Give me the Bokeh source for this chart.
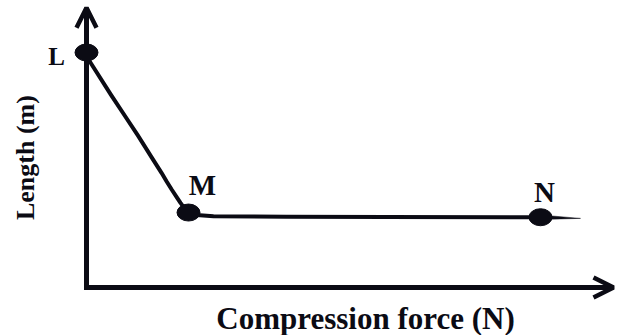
from bokeh.plotting import figure
from bokeh.models import Range1d, Label, Arrow, OpenHead
from bokeh.embed import file_html
from bokeh.resources import INLINE
import math

# ---- data (schematic) ----
curve_force = [0.0, 0.05, 0.49, 0.76, 1.03, 1.30, 1.50, 1.60, 1.70, 1.80, 1.88, 1.95, 2.04,
               2.20, 2.54, 4.0, 6.0, 9.08]
curve_length = [10.0, 9.67, 8.20, 7.33, 6.46, 5.55, 4.88, 4.52, 4.18, 3.86, 3.60, 3.40, 3.19,
                3.08, 3.03, 3.01, 3.00, 2.99]
point_names = ["L", "M", "N"]
point_force = [0.0, 2.04, 9.08]
point_length = [10.0, 3.19, 2.99]
tail_end = (9.88, 2.94)
axis_x_max = 10.54
axis_y_max = 11.9
x_title = "Compression force (N)"
y_title = "Length (m)"

FONT = "Liberation Serif"
INK = "#0b0b14"

p = figure(width=617, height=335, x_range=Range1d(-1.72, 10.62), y_range=Range1d(-2.043, 12.213),
           output_backend="svg", toolbar_location=None, min_border=0,
           x_axis_type=None, y_axis_type=None)
p.grid.visible = False
p.outline_line_color = None
p.background_fill_color = "white"
p.border_fill_color = "white"

# axes (L-shape) with open arrow heads
p.line([0, 0, axis_x_max], [axis_y_max, 0, 0], line_width=5, line_color=INK, line_join="miter")
p.add_layout(Arrow(end=OpenHead(size=20, line_width=4.5, line_color=INK), line_alpha=0,
                   x_start=0, y_start=axis_y_max - 1, x_end=0, y_end=axis_y_max))
p.add_layout(Arrow(end=OpenHead(size=20, line_width=4.5, line_color=INK), line_alpha=0,
                   x_start=axis_x_max - 1, y_start=0, x_end=axis_x_max, y_end=0))

# curve
p.line(curve_force, curve_length, line_width=4, line_color=INK, line_join="round", line_cap="round")
# tapering tail after N
half = 2.2 / 23.5
p.patch([point_force[-1], tail_end[0], point_force[-1]],
        [point_length[-1] + half, tail_end[1], point_length[-1] - half],
        fill_color=INK, line_color=INK, line_width=0.5)

# points
p.ellipse(point_force, point_length, width=23, height=17, width_units="screen",
          height_units="screen", fill_color=INK, line_color=INK)

# point labels
offsets = {"L": (-30, 4, "25px"), "M": (14, -28, "29px"), "N": (4, -25, "29px")}
for name, fx, ly in zip(point_names, point_force, point_length):
    dx, dy, fs = offsets[name]
    p.add_layout(Label(x=fx, y=ly, text=name, x_offset=dx, y_offset=-dy,
                       text_align="center", text_baseline="middle",
                       text_font=FONT, text_font_style="bold", text_font_size=fs,
                       text_color=INK))

# axis titles
p.add_layout(Label(x=5.58, y=-1.32, text=x_title, text_align="center", text_baseline="middle",
                   text_font=FONT, text_font_style="bold", text_font_size="31px", text_color=INK))
p.add_layout(Label(x=-1.22, y=5.53, text=y_title, angle=math.pi / 2,
                   text_align="center", text_baseline="middle",
                   text_font=FONT, text_font_style="bold", text_font_size="26px", text_color=INK))

open("out.html", "w").write(file_html(p, INLINE))
